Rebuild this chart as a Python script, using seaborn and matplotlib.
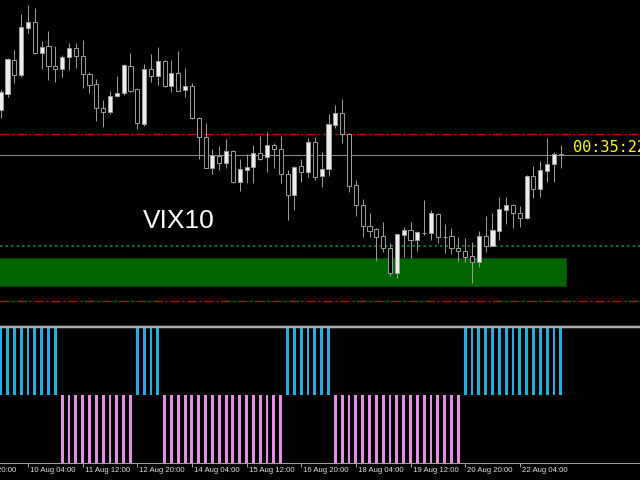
import numpy as np
import pandas as pd
import matplotlib
matplotlib.use('Agg')
import matplotlib.pyplot as plt
from matplotlib.patches import Rectangle
import seaborn as sns

# VIX10 H4 candles (oldest first)
opens = [220, 236, 270, 255, 302, 308, 277, 284, 264, 261, 273, 282, 274, 256, 246, 222, 218, 234, 237, 264,
         241, 206, 261, 254, 269, 244, 257, 240, 244, 212, 193, 162, 174, 167, 179, 148, 160, 163, 177, 173,
         185, 181, 156, 135, 164, 158, 188, 154, 161, 205, 217, 196, 145, 125, 104, 101, 94, 82, 57, 95,
         100, 90, 97, 97, 116, 93, 94, 82, 79, 74, 68, 94, 84, 99, 120, 125, 117, 112, 154, 141,
         159, 166, 176]
highs = [240, 272, 280, 316, 325, 322, 289, 299, 284, 275, 287, 287, 290, 258, 251, 230, 239, 254, 266, 277,
         242, 266, 276, 283, 270, 270, 279, 262, 247, 213, 207, 181, 184, 191, 180, 171, 176, 185, 194, 198,
         187, 194, 160, 164, 171, 192, 193, 178, 216, 225, 231, 197, 150, 131, 117, 102, 108, 87, 96, 103,
         108, 99, 130, 120, 117, 106, 102, 93, 92, 88, 99, 114, 117, 133, 133, 126, 124, 155, 164, 169,
         192, 178, 185]
lows = [212, 233, 247, 253, 297, 276, 261, 250, 248, 253, 260, 262, 242, 237, 209, 203, 216, 233, 235, 238,
        201, 204, 248, 245, 243, 238, 239, 233, 211, 171, 162, 156, 160, 162, 147, 139, 147, 147, 170, 158,
        162, 147, 110, 120, 148, 153, 150, 143, 154, 202, 187, 138, 114, 93, 93, 69, 78, 54, 52, 73,
        72, 79, 95, 90, 87, 77, 76, 68, 68, 47, 63, 78, 84, 90, 106, 102, 103, 111, 132, 133,
        148, 148, 162]
closes = [238, 271, 255, 303, 308, 277, 283, 264, 261, 273, 282, 274, 256, 245, 222, 218, 234, 237, 265, 239,
          207, 261, 254, 269, 244, 257, 239, 244, 212, 193, 162, 175, 167, 179, 148, 161, 163, 177, 171, 185,
          181, 156, 135, 163, 158, 188, 153, 161, 206, 217, 196, 144, 125, 104, 99, 93, 82, 57, 96, 100,
          90, 98, 97, 117, 93, 93, 82, 79, 73, 68, 94, 84, 100, 121, 125, 117, 112, 154, 141, 160,
          166, 176, 175]

# trend histogram in the lower window: +1 up (blue), -1 down (pink)
signal = [1, 1, 1, 1, 1, 1, 1, 1, 1,
          -1, -1, -1, -1, -1, -1, -1, -1, -1, -1, -1,
          1, 1, 1, 1,
          -1, -1, -1, -1, -1, -1, -1, -1, -1, -1, -1, -1, -1, -1, -1, -1, -1, -1,
          1, 1, 1, 1, 1, 1, 1,
          -1, -1, -1, -1, -1, -1, -1, -1, -1, -1, -1, -1, -1, -1, -1, -1, -1, -1, -1,
          1, 1, 1, 1, 1, 1, 1, 1, 1, 1, 1, 1, 1, 1, 1]

# time axis labels (bar index -> label)
tick_idx = [-4, 4, 12, 20, 28, 36, 44, 52, 60, 68, 76]
tick_labels = ['8 Aug 20:00', '10 Aug 04:00', '11 Aug 12:00', '12 Aug 20:00', '14 Aug 04:00',
               '15 Aug 12:00', '16 Aug 20:00', '18 Aug 04:00', '19 Aug 12:00', '20 Aug 20:00',
               '22 Aug 04:00']

# horizontal objects on the price chart
upper_level = 196.5
lower_level = 29
bid_price = 175
support_level = 84.5
zone_top, zone_bottom = 72, 44
zone_end = 82.8

symbol_name = 'VIX10'
timer_text = '00:35:22'

df = pd.DataFrame({'open': opens, 'high': highs, 'low': lows, 'close': closes})
df['bar'] = np.arange(len(df))
sig = pd.DataFrame({'bar': np.arange(len(signal)), 'value': signal})
sig['side'] = np.where(sig['value'] > 0, 'up', 'down')

sns.set_style('ticks')
plt.rcParams['lines.scale_dashes'] = False
PX = 0.72  # points per pixel at dpi 100

fig = plt.figure(figsize=(6.4, 4.8), dpi=100, facecolor='black')
ax = fig.add_axes([0, 1 - 325 / 480, 1, 325 / 480])
ax2 = fig.add_axes([0, 1 - 463 / 480, 1, 136 / 480])
xlim = (-0.1, 93.6)

# price chart
ax.set_facecolor('black')
ax.add_patch(Rectangle((-1, zone_bottom), zone_end + 1, zone_top - zone_bottom,
                       facecolor='#006400', edgecolor='#004a00', lw=1 * PX, zorder=1))
ax.axhline(upper_level, color='#d00000', lw=1.4 * PX, ls=(0, (9 * PX, 3 * PX, 2 * PX, 3 * PX)), zorder=2)
ax.axhline(lower_level, color='#d00000', lw=1.4 * PX, ls=(0, (9 * PX, 3 * PX, 2 * PX, 3 * PX)), zorder=2)
ax.axhline(support_level, color='#1f8f1f', lw=1.5 * PX, ls=(0, (2.5 * PX, 3 * PX)), zorder=2)
ax.axhline(bid_price, color='#8c8c8c', lw=1 * PX, zorder=2)

bull = df['close'] >= df['open']
ax.vlines(df['bar'], df['low'], df['high'], color='#9a9a9a', lw=1 * PX, zorder=3)
ax.bar(df['bar'], df['close'] - df['open'], bottom=df['open'], width=0.6,
       color=np.where(bull, '#ededed', 'black'), edgecolor='#9a9a9a', linewidth=1 * PX, zorder=4)

ax.set_xlim(*xlim)
ax.set_ylim(5, 330)
ax.set_xticks([])
ax.set_yticks([])
for s in ax.spines.values():
    s.set_visible(False)

# trend histogram
ax2.set_facecolor('black')
sns.barplot(data=sig, x='bar', y='value', hue='side', palette={'up': '#00bfff', 'down': '#ee82ee'},
            native_scale=True, dodge=False, width=0.42, errorbar=None, legend=False,
            linewidth=0, ax=ax2)
ax2.set_xlim(*xlim)
ax2.set_ylim(-1, 1)
ax2.set_yticks([])
ax2.set_xlabel('')
ax2.set_ylabel('')
for side in ['left', 'right']:
    ax2.spines[side].set_visible(False)
ax2.spines['top'].set_color('#b0b0b0')
ax2.spines['top'].set_linewidth(2.5 * PX)
ax2.spines['bottom'].set_color('#a0a0a0')
ax2.spines['bottom'].set_linewidth(1 * PX)
ax2.set_xticks(tick_idx[1:])
ax2.set_xticklabels([])
ax2.tick_params(axis='x', direction='out', length=4 * PX, width=1 * PX, color='#a0a0a0')
for pos, lab in zip(tick_idx, tick_labels):
    ax2.annotate(lab, xy=(pos, 0), xycoords=('data', 'axes fraction'), xytext=(2, -8),
                 textcoords='offset pixels', ha='left', va='center', color='#e0e0e0',
                 fontsize=5.6, family='Liberation Sans', annotation_clip=False)

# labels on the chart
fig.text(143 / 640, 1 - 228 / 480, symbol_name, color='white', fontsize=19,
         family='Liberation Sans', ha='left', va='baseline')
fig.text(573 / 640, 1 - 147 / 480, timer_text, color='#ffff00', fontsize=11,
         family='DejaVu Sans Mono', ha='left', va='center')

fig.savefig('out.png', dpi=100, facecolor='black')
